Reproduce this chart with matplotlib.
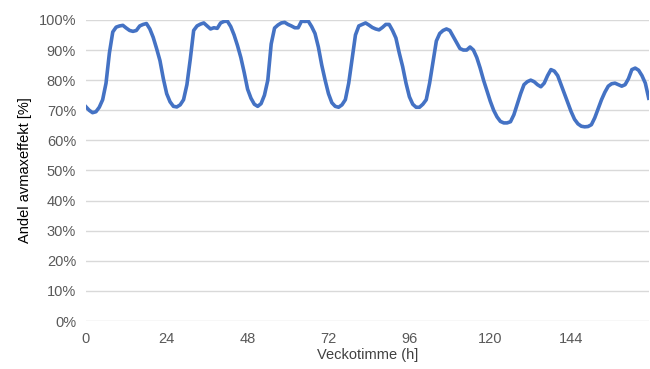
import matplotlib
matplotlib.use("Agg")
import matplotlib.pyplot as plt
from matplotlib.ticker import FuncFormatter, MultipleLocator

hours = list(range(168))
share = [
    71.2, 70.0, 69.2, 69.5, 71.0, 73.5, 79.0, 89.0, 96.0, 97.6,
    98.0, 98.2, 97.3, 96.5, 96.2, 96.5, 98.0, 98.5, 98.8, 97.0,
    94.2, 90.5, 86.5, 80.5, 75.5, 72.8, 71.3, 71.1, 71.8, 73.5,
    78.5, 87.0, 96.5, 98.0, 98.6, 99.0, 98.0, 97.0, 97.4, 97.2,
    99.0, 99.5, 99.6, 97.8, 95.0, 91.5, 87.5, 82.5, 77.0, 74.0,
    72.0, 71.3, 72.2, 75.0, 80.0, 92.0, 97.3, 98.3, 99.0, 99.2,
    98.5, 98.0, 97.4, 97.4, 99.6, 99.5, 99.6, 97.8, 95.5, 91.0,
    85.0, 80.0, 75.5, 72.5, 71.3, 71.0, 71.8, 73.5, 79.0, 87.0,
    95.0, 98.0, 98.5, 99.0, 98.3, 97.5, 97.0, 96.7, 97.5, 98.5,
    98.5, 96.5, 94.0, 89.0, 84.5, 79.0, 74.5, 72.0, 71.0, 71.0,
    72.0, 73.5, 79.0, 86.0, 93.0, 95.5, 96.5, 97.0, 96.5, 94.5,
    92.5, 90.5, 90.0, 90.0, 91.0, 90.0, 87.5, 84.0, 80.0, 76.5,
    73.0, 70.0, 67.8, 66.3, 65.8, 65.8, 66.2, 68.5, 72.0, 75.5,
    78.5, 79.5, 80.0, 79.5, 78.5, 77.8, 79.0, 81.5, 83.5, 83.0,
    81.5, 78.5, 75.5, 72.5, 69.5, 67.0, 65.5, 64.7, 64.5, 64.6,
    65.2, 67.5, 70.5, 73.5, 76.0, 78.0, 78.8, 79.0, 78.5, 78.0,
    78.5, 80.5, 83.5, 84.0, 83.3, 81.5, 79.0, 74.0,
]
xticks = [0, 24, 48, 72, 96, 120, 144]

fig = plt.figure(figsize=(6.5, 3.69), dpi=100)
ax = fig.add_axes([0.132, 0.130, 0.866, 0.816])
ax.plot(hours, share, color="#4472C4", linewidth=2.6, solid_joinstyle="round")
ax.set_xlim(0, 167)
ax.set_ylim(0, 100)
ax.set_xticks(xticks)
ax.yaxis.set_major_locator(MultipleLocator(10))
ax.yaxis.set_major_formatter(FuncFormatter(lambda v, p: f"{int(round(v))}%"))
ax.grid(axis="y", color="#D9D9D9", linewidth=1.0)
ax.set_axisbelow(True)
for s in ax.spines.values():
    s.set_visible(False)
ax.tick_params(length=0, labelsize=10.5, colors="#595959")
ax.tick_params(axis="x", pad=8)
ax.tick_params(axis="y", pad=7)
for lab in ax.get_xticklabels() + ax.get_yticklabels():
    lab.set_fontfamily("Liberation Sans")
ax.set_xlabel("Veckotimme (h]", fontsize=10.5, color="#404040", labelpad=1, family="Liberation Sans")
ax.set_ylabel("Andel avmaxeffekt [%]", fontsize=10.5, color="#000000", labelpad=5, family="Liberation Sans")
fig.savefig("out.png", dpi=100)
